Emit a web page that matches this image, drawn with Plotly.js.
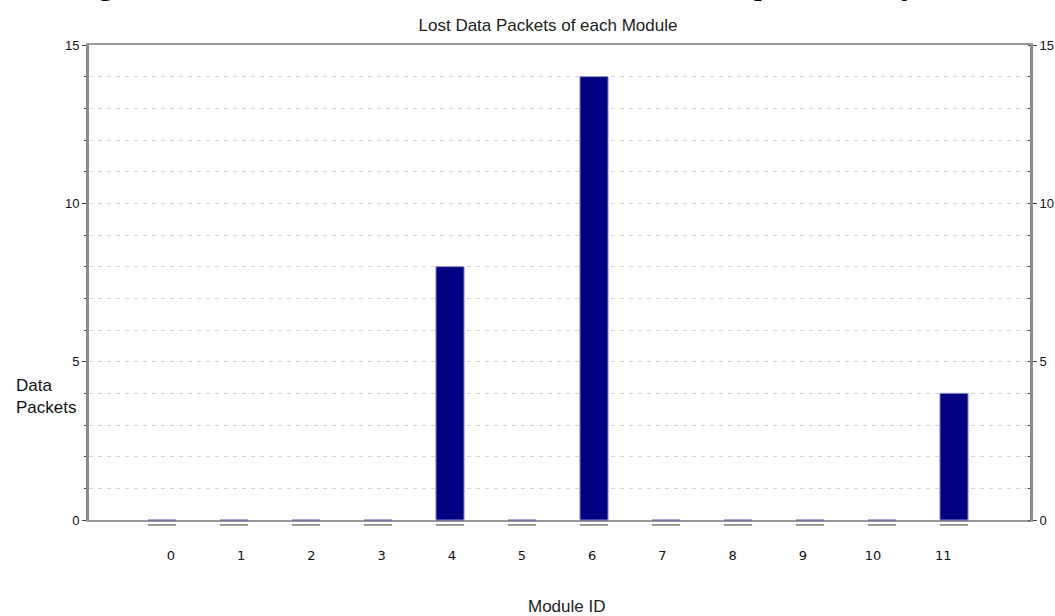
<!DOCTYPE html>
<html>
<head>
<meta charset="utf-8">
<script src="https://cdn.plot.ly/plotly-3.0.1.min.js"></script>
<style>html,body{margin:0;padding:0;background:#fff;}#chart{width:1055px;height:616px;}</style>
</head>
<body>
<div id="chart"></div>
<script>
// ---- data ----
const moduleIds = [0, 1, 2, 3, 4, 5, 6, 7, 8, 9, 10, 11];
const lostPackets = [0, 0, 0, 0, 8, 0, 14, 0, 0, 0, 0, 4];
const tickLabels = ["0", "1", "2", "3", "4", "5", "6", "7", "8", "9", "10", "11"];
const yTicks = [0, 5, 10, 15];
const chartTitle = "Lost Data Packets of each Module";
const xTitle = "Module ID";
const yTitle = "Data<br>Packets";
const captionText = "Figure 8 shows the modules and the number of lost packets they have.";

// ---- geometry helpers (pixel layout of the plot area) ----
const W = 1055, H = 616;
const L = 89, R = 1030, T = 45, B = 520;
const pw = R - L, ph = B - T;
const px = v => (v - L) / pw;          // pixel x -> paper x
const py = v => (B - v) / ph;          // pixel y -> paper y
const BARW = 0.39;

const traces = [
  {
    type: 'bar', x: moduleIds, y: lostPackets, width: BARW,
    marker: {color: '#000080', line: {color: '#8c8cc8', width: 1}},
    hoverinfo: 'x+y', showlegend: false
  },
  { // invisible trace for label axis
    type: 'scatter', mode: 'markers', x: moduleIds, y: moduleIds.map(() => 0),
    xaxis: 'x2', marker: {opacity: 0}, hoverinfo: 'skip', showlegend: false
  },
  { // invisible trace for right axis
    type: 'scatter', mode: 'markers', x: [moduleIds[0]], y: [0],
    yaxis: 'y2', marker: {opacity: 0}, hoverinfo: 'skip', showlegend: false
  }
];

// shadow dash + base line under each category, placed on the x scale
const shapes = [];
moduleIds.forEach(id => {
  shapes.push({type: 'line', xref: 'x', yref: 'paper', layer: 'above',
    x0: id - BARW / 2, x1: id + BARW / 2, y0: py(525), y1: py(525),
    line: {color: '#9a9a9a', width: 2}});
  shapes.push({type: 'line', xref: 'x', yref: 'paper', layer: 'above',
    x0: id - BARW / 2, x1: id + BARW / 2, y0: py(520.5), y1: py(520.5),
    line: {color: '#7272a8', width: 1}});
});

const layout = {
  width: W, height: H,
  margin: {l: L, r: W - R, t: T, b: H - B, pad: 0},
  paper_bgcolor: '#ffffff', plot_bgcolor: '#ffffff',
  showlegend: false,
  title: {
    text: chartTitle, x: px(548), xref: 'paper', xanchor: 'center',
    y: 1 - 25 / H, yref: 'container', yanchor: 'middle',
    font: {family: 'Liberation Sans, Arial, sans-serif', size: 17, color: '#222'}
  },
  xaxis: {
    range: [(L - 162) / 72, (R - 162) / 72],
    showticklabels: false, ticks: '', showgrid: false, zeroline: false,
    showline: true, linecolor: '#999999', linewidth: 2, mirror: true
  },
  xaxis2: {
    overlaying: 'x', side: 'bottom',
    range: [(L - 171) / 70.2, (R - 171) / 70.2],
    tickvals: moduleIds, ticktext: tickLabels, ticks: '',
    showgrid: false, zeroline: false, showline: false,
    tickfont: {family: 'DejaVu Sans, Verdana, sans-serif', size: 13, color: '#111'},
    ticklabelstandoff: 26
  },
  yaxis: {
    range: [0, 15], tickvals: yTicks, ticks: 'outside', ticklen: 4, tickwidth: 1, tickcolor: '#444',
    showgrid: true, gridcolor: '#d2d2d2', gridwidth: 1, griddash: '4px,5px',
    zeroline: false, showline: true, linecolor: '#8a8a8a', linewidth: 3,
    tickfont: {family: 'Liberation Sans, Arial, sans-serif', size: 13, color: '#111'},
    minor: {dtick: 1, ticks: 'outside', ticklen: 2, tickcolor: '#444', showgrid: true,
      gridcolor: '#d2d2d2', gridwidth: 1, griddash: '4px,5px'}
  },
  yaxis2: {
    overlaying: 'y', side: 'right', range: [0, 15], tickvals: yTicks,
    ticks: 'outside', ticklen: 4, tickcolor: '#444', showgrid: false, zeroline: false,
    showline: true, linecolor: '#8a8a8a', linewidth: 3,
    tickfont: {family: 'Liberation Sans, Arial, sans-serif', size: 13, color: '#111'},
    minor: {dtick: 1, ticks: 'inside', ticklen: 2, tickcolor: '#444'}
  },
  shapes: shapes,
  annotations: [
    {
      text: yTitle, xref: 'paper', yref: 'paper', x: px(14), y: py(396),
      xanchor: 'left', yanchor: 'middle', align: 'left', showarrow: false,
      font: {family: 'Liberation Sans, Arial, sans-serif', size: 17, color: '#111'}
    },
    {
      text: xTitle, xref: 'paper', yref: 'paper', x: px(566), y: py(606),
      xanchor: 'center', yanchor: 'middle', showarrow: false,
      font: {family: 'Liberation Sans, Arial, sans-serif', size: 17, color: '#222'}
    },
    {
      text: captionText, xref: 'paper', yref: 'paper', x: px(68), y: py(-17),
      xanchor: 'left', yanchor: 'middle', showarrow: false,
      font: {family: 'Liberation Serif, Times New Roman, serif', size: 33, color: '#000'}
    }
  ]
};

Plotly.newPlot('chart', traces, layout, {displayModeBar: false, staticPlot: true});
</script>
</body>
</html>
